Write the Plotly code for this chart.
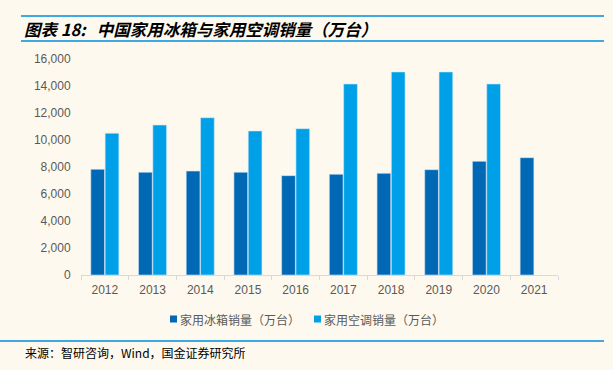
import plotly.graph_objects as go

years = ["2012", "2013", "2014", "2015", "2016", "2017", "2018", "2019", "2020", "2021"]
fridge = [7830, 7610, 7700, 7610, 7360, 7460, 7530, 7800, 8420, 8690]
aircon = [10500, 11110, 11650, 10670, 10840, 14150, 15040, 15040, 14150, None]
y_ticks = [0, 2000, 4000, 6000, 8000, 10000, 12000, 14000, 16000]
names = ["家用冰箱销量（万台）", "家用空调销量（万台）"]
colors = ["#0068B5", "#00A0E9"]

BG = "#FEF9EE"
W, H = 613, 370
L, R, T, B = 81, 55, 59, 95
pw, ph = W - L - R, H - T - B

def px(x):
    return (x - L) / pw

def py(y):
    return (H - B - y) / ph

fig = go.Figure()
fig.add_trace(go.Bar(x=years, y=fridge, name=names[0],
                     marker=dict(color=colors[0], line=dict(color="#cfe3f2", width=0.6))))
fig.add_trace(go.Bar(x=years, y=aircon, name=names[1],
                     marker=dict(color=colors[1], line=dict(color="#cfe9f7", width=0.6))))

cjk = "Noto Sans CJK SC, Noto Sans, sans-serif"
lat = "Liberation Sans, Arial, Noto Sans CJK SC, sans-serif"

fig.update_layout(
    width=W, height=H,
    margin=dict(l=L, r=R, t=T, b=B),
    paper_bgcolor=BG, plot_bgcolor=BG,
    barmode="group", bargap=0.40, bargroupgap=0.04,
    showlegend=False,
    xaxis=dict(showgrid=False, showline=True, linecolor="#d9d9d9", linewidth=1,
               ticks="outside", tickson="boundaries", ticklen=4, tickcolor="#d9d9d9",
               ticklabelstandoff=4,
               tickfont=dict(family=lat, size=12, color="#595959")),
    yaxis=dict(range=[0, 16000], tickvals=y_ticks, tickformat=",d", showgrid=False,
               zeroline=False, showline=False, ticks="outside", ticklen=7,
               tickcolor="rgba(0,0,0,0)",
               tickfont=dict(family=lat, size=12, color="#595959")),
    font=dict(family=lat),
)

# title
fig.add_annotation(x=px(22), y=py(29), xref="paper", yref="paper", xanchor="left", yanchor="middle",
                   text="<b><i>图表 18:&nbsp;&nbsp;&nbsp;中国家用冰箱与家用空调销量（万台）</i></b>",
                   showarrow=False, font=dict(family=cjk, size=16.5, color="#000000"))
# source
fig.add_annotation(x=px(23), y=py(352), xref="paper", yref="paper", xanchor="left", yanchor="middle",
                   text="来源：智研咨询，Wind，国金证券研究所", showarrow=False,
                   font=dict(family=cjk, size=12, color="#000000"))

for yy, x0 in [(16, 21), (41, 21), (341, 0)]:
    fig.add_shape(type="line", xref="paper", yref="paper", x0=px(x0), x1=px(604),
                  y0=py(yy), y1=py(yy), line=dict(color="#3EA8E0", width=2))

# legend (manual)
for sx, name, col in [(170, names[0], colors[0]), (314, names[1], colors[1])]:
    fig.add_shape(type="rect", xref="paper", yref="paper", x0=px(sx), x1=px(sx + 7),
                  y0=py(322.5), y1=py(315.5), line=dict(width=0), fillcolor=col)
    fig.add_annotation(x=px(sx + 8), y=py(319), xref="paper", yref="paper", xanchor="left",
                       yanchor="middle", text=name, showarrow=False,
                       font=dict(family=cjk, size=12, color="#595959"))

fig.write_html("out.html", config={"displayModeBar": False},
               post_script="document.body.style.margin='0';")
